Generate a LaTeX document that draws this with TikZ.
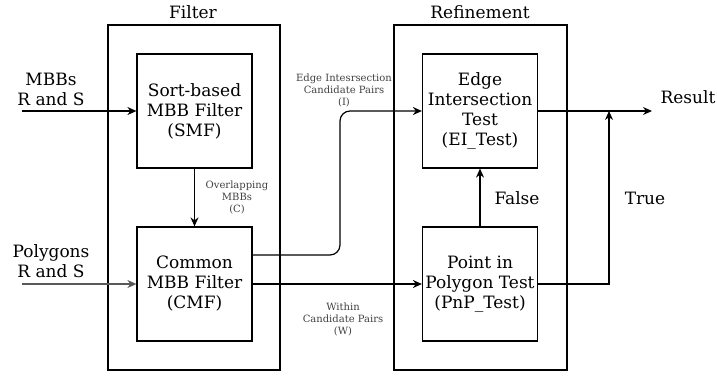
\documentclass[tikz,border=0pt]{standalone}
\usepackage{fontspec}
\setmainfont{DejaVu Serif}
\usetikzlibrary{arrows.meta}
\begin{document}
\begin{tikzpicture}[x=1pt,y=-1pt,
  box/.style={draw,line width=1.2pt,minimum width=115pt,minimum height=114pt,
    align=center,font=\fontsize{17}{20}\selectfont,inner sep=0pt},
  stage/.style={draw,line width=1.2pt},
  lbl/.style={align=center,font=\fontsize{17}{20}\selectfont,inner sep=0pt},
  tiny/.style={align=center,font=\fontsize{10}{12}\selectfont,inner sep=0pt,text=black!75},
  flow/.style={line width=1.2pt,-{Stealth[length=9pt,width=8pt]}}]
\useasboundingbox (0,0) rectangle (717,376);
% stage frames
\draw[stage] (108,25) rectangle (280,370);
\draw[stage] (394,25) rectangle (567,370);
\node[lbl] (ftitle) at (193,12) {Filter};
\node[lbl] (rtitle) at (480,12) {Refinement};
% processing blocks
\node[box] (smf) at (194.5,111) {Sort-based\\MBB Filter\\(SMF)};
\node[box] (cmf) at (194.5,284) {Common\\MBB Filter\\(CMF)};
\node[box] (ei) at (480,111) {Edge\\Intersection\\Test\\(EI\_Test)};
\node[box] (pnp) at (480,284) {Point in\\Polygon Test\\(PnP\_Test)};
% inputs
\node[lbl] (min) at (51,89) {MBBs\\R and S};
\node[lbl] (pin) at (51,261) {Polygons\\R and S};
\coordinate (ma) at (22,111);
\coordinate (pa) at (22,284);
\draw[flow] (ma) -- (smf.west);
\draw[flow,black!65] (pa) -- (cmf.west);
\draw[flow] (smf.south) -- (cmf.north);
\node[tiny] (ovl) at (237,197) {Overlapping\\MBBs\\(C)};
% candidate pairs
\coordinate (bend1) at (340,255);
\coordinate (bend2) at (340,111);
\draw[flow,rounded corners=10pt] (cmf.east |- bend1) -- (bend1) -- (bend2) -- (ei.west);
\node[tiny] (eic) at (344,90) {Edge Intesrsection\\Candidate Pairs\\(I)};
\draw[flow] (cmf.east) -- (pnp.west);
\node[tiny] (wcp) at (343,319) {Within\\Candidate Pairs\\(W)};
% refinement outcomes
\draw[flow] (pnp.north) -- (ei.south);
\node[lbl] (fls) at (517,198) {False};
\coordinate (res) at (652,111);
\coordinate (tr) at (609,284);
\draw[flow] (ei.east) -- (res);
\draw[flow] (pnp.east) -- (tr) -- (tr |- res);
\node[lbl] (tru) at (645,198) {True};
\node[lbl] (rtxt) at (688,97) {Result};
\end{tikzpicture}
\end{document}
